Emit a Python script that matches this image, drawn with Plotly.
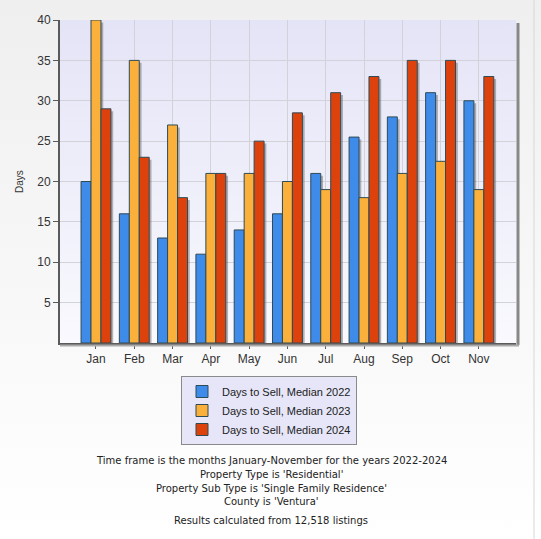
import base64
import plotly.graph_objects as go

months = ["Jan", "Feb", "Mar", "Apr", "May", "Jun", "Jul", "Aug", "Sep", "Oct", "Nov"]
median_2022 = [20, 16, 13, 11, 14, 16, 21, 25.5, 28, 31, 30]
median_2023 = [40, 35, 27, 21, 21, 20, 19, 18, 21, 22.5, 19]
median_2024 = [29, 23, 18, 21, 25, 28.5, 31, 33, 35, 35, 33]
series_names = ["Days to Sell, Median 2022", "Days to Sell, Median 2023", "Days to Sell, Median 2024"]
y_ticks = [5, 10, 15, 20, 25, 30, 35, 40]
notes = [
    "Time frame is the months January-November for the years 2022-2024",
    "Property Type is 'Residential'",
    "Property Sub Type is 'Single Family Residence'",
    "County is 'Ventura'",
    "Results calculated from 12,518 listings",
]

colors = ["#3F8BEA", "#FBB03B", "#DE420C"]
series = [median_2022, median_2023, median_2024]
W, H = 541, 539
ML, MR, MT, MB = 60, 25, 20, 196
PW, PH = W - ML - MR, H - MT - MB

def grad(top, bottom):
    svg = (f'<svg xmlns="http://www.w3.org/2000/svg" width="100" height="100" preserveAspectRatio="none">'
           f'<defs><linearGradient id="g" x1="0" y1="0" x2="0" y2="1">'
           f'<stop offset="0" stop-color="{top}"/><stop offset="1" stop-color="{bottom}"/></linearGradient></defs>'
           f'<rect width="100" height="100" fill="url(#g)"/></svg>')
    return "data:image/svg+xml;base64," + base64.b64encode(svg.encode()).decode()

fig = go.Figure()
bw = 0.26
offsets = [-0.39, -0.13, 0.13]
# shadows
for vals, off in zip(series, offsets):
    fig.add_trace(go.Bar(x=months, y=vals, base=-0.3, offset=off + 0.06, width=bw,
                         marker=dict(color="rgba(90,90,90,0.45)", line=dict(width=0)),
                         showlegend=False, hoverinfo="skip"))
for vals, off, c, name in zip(series, offsets, colors, series_names):
    fig.add_trace(go.Bar(x=months, y=vals, offset=off, width=bw, name=name,
                         marker=dict(color=c, line=dict(color="#2E4A55", width=1))))

def py(ypix):
    return (MT + PH - ypix) / PH

annos = []
ys = [460, 474, 488, 502, 520]
for t, yy in zip(notes, ys):
    annos.append(dict(text=t, x=(271 - ML) / PW, y=py(yy), xref="paper", yref="paper",
                      xanchor="center", yanchor="middle", showarrow=False,
                      font=dict(family="DejaVu Sans", size=10, color="#222")))

fig.update_layout(
    width=W, height=H, barmode="overlay",
    margin=dict(l=ML, r=MR, t=MT, b=MB),
    paper_bgcolor="white", plot_bgcolor="rgba(0,0,0,0)",
    font=dict(family="Liberation Sans, Arial", size=12, color="#333"),
    images=[
        dict(source=grad("#EFEFEF", "#FFFFFF"), xref="paper", yref="paper",
             x=-ML / PW, y=1 + MT / PH, sizex=W / PW, sizey=H / PH,
             sizing="stretch", layer="below", xanchor="left", yanchor="top"),
        dict(source=grad("#E4E4F7", "#F9F9FE"), xref="paper", yref="paper",
             x=0, y=1, sizex=1, sizey=1, sizing="stretch", layer="below",
             xanchor="left", yanchor="top"),
    ],
    shapes=[
        dict(type="line", xref="paper", yref="paper", x0=1 + 2 / PW, x1=1 + 2 / PW,
             y0=-2 / PH, y1=1 - 3 / PH, line=dict(color="#888", width=3)),
        dict(type="line", xref="paper", yref="paper", x0=0, x1=1 + 3 / PW,
             y0=-2.5 / PH, y1=-2.5 / PH, line=dict(color="#AAA", width=2)),
        dict(type="line", xref="paper", yref="paper", x0=1 + 18 / PW, x1=1 + 18 / PW,
             y0=py(539), y1=py(0), line=dict(color="#D8D8D8", width=1)),
    ],
    xaxis=dict(range=[-0.94, 10.97], showgrid=True, gridcolor="#D2D2D8", gridwidth=1,
               showline=True, linecolor="#5A5A5A", linewidth=2, ticks="outside",
               ticklen=4, tickcolor="#5A5A5A", tickfont=dict(size=12, color="#333")),
    yaxis=dict(range=[0, 40], tickvals=y_ticks, showgrid=True, gridcolor="#D2D2D8",
               gridwidth=1, showline=True, linecolor="#5A5A5A", linewidth=2,
               ticks="outside", ticklen=5, tickcolor="#5A5A5A", zeroline=False,
               tickfont=dict(size=12, color="#333"),
               title=dict(text="Days", font=dict(size=10, color="#333"), standoff=12)),
    legend=dict(x=(181 - ML) / PW, y=py(376), xanchor="left", yanchor="top",
                bgcolor="#E6E6F8", bordercolor="#8A8A8A", borderwidth=1,
                font=dict(size=11, color="#222"), tracegroupgap=0, itemwidth=30),
    annotations=annos,
    hovermode=False,
)
fig.write_html("out.html", config={"displayModeBar": False},
               post_script="document.body.style.margin='0';")
